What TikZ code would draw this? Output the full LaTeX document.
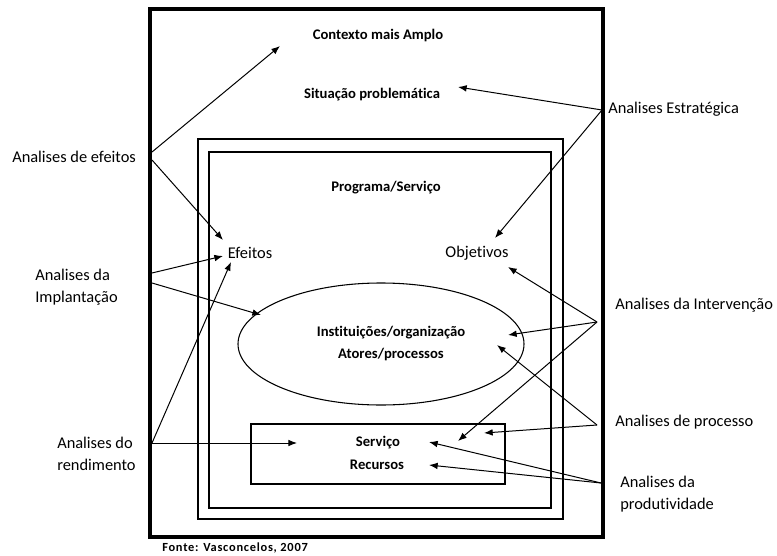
\documentclass[tikz,border=0pt]{standalone}
\usepackage{fontspec}
\setmainfont[Ligatures=NoCommon]{Carlito}
\usetikzlibrary{arrows.meta}
\begin{document}
\begin{tikzpicture}[x=0.75pt,y=-0.75pt,
  lbl/.style={inner sep=0pt,font=\fontsize{12.3}{16.5}\selectfont,align=left},
  bld/.style={inner sep=0pt,font=\fontsize{11}{16.5}\selectfont\bfseries},
  arr/.style={line width=0.75pt,-{Latex[length=6.5pt,width=5pt]}},
  frame/.style={line width=0.8pt}]
\useasboundingbox (0,0) rectangle (777,556);
% boxes
\draw[line width=2.3pt] (150,9) rectangle (603,537);
\draw[frame] (198,139) rectangle (563,519);
\draw[frame] (209,152) rectangle (551,508);
\draw[frame] (381,344) ellipse [x radius=143, y radius=61];
\draw[frame] (251,424) rectangle (505,484);
% inner texts
\node[bld] (ctx) at (378,36) {Contexto mais Amplo};
\node[bld] (sit) at (372,95) {Situação problemática};
\node[bld] (prog) at (386,188) {Programa/Serviço};
\node[lbl] (efe) at (250,253) {Efeitos};
\node[lbl] (obj) at (477,253) {Objetivos};
\node[bld] (inst) at (391,333) {Instituições/organização};
\node[bld] (ator) at (391,355) {Atores/processos};
\node[bld] (serv) at (378,443) {Serviço};
\node[bld] (rec) at (377,465) {Recursos};
\node[inner sep=0pt,font=\fontsize{9.3}{10}\selectfont\bfseries\addfontfeatures{LetterSpace=6},anchor=west] (fonte) at (162,548) {Fonte: Vasconcelos, 2007};
% side labels
\node[lbl,anchor=west] (aef) at (12,157) {Analises de efeitos};
\node[lbl,anchor=west] (aimp) at (35,287) {Analises da\\Implantação};
\node[lbl,anchor=west] (aren) at (57,454) {Analises do\\rendimento};
\node[lbl,anchor=west] (aest) at (608,109) {Analises Estratégica};
\node[lbl,anchor=west] (aint) at (615,305) {Analises da Intervenção};
\node[lbl,anchor=west] (apro) at (615,422) {Analises de processo};
\node[lbl,anchor=west] (aprd) at (620,494) {Analises da\\produtividade};
% arrow endpoints
\coordinate (s1) at (152,152);
\coordinate (s2) at (152,160);
\coordinate (s3) at (152,273);
\coordinate (s4) at (152,283);
\coordinate (s5) at (152,443);
\coordinate (s6) at (602,110);
\coordinate (s7) at (597,322);
\coordinate (s8) at (597,425);
\coordinate (s9) at (601,483);
\coordinate (t1) at (280,46);
\coordinate (t2) at (223,240);
\coordinate (t3) at (223,256);
\coordinate (t4) at (261,315);
\coordinate (t5) at (231,262);
\coordinate (t6) at (297,443);
\coordinate (t7) at (458,87);
\coordinate (t8) at (495,238);
\coordinate (t9) at (508,267);
\coordinate (t10) at (508,335);
\coordinate (t11) at (458,441);
\coordinate (t12) at (497,345);
\coordinate (t13) at (484,433);
\coordinate (t14) at (429,442);
\coordinate (t15) at (429,465);
% arrows
\draw[arr] (s1) -- (t1);
\draw[arr] (s2) -- (t2);
\draw[arr] (s3) -- (t3);
\draw[arr] (s4) -- (t4);
\draw[arr] (s5) -- (t5);
\draw[arr] (s5) -- (t6);
\draw[arr] (s6) -- (t7);
\draw[arr] (s6) -- (t8);
\draw[arr] (s7) -- (t9);
\draw[arr] (s7) -- (t10);
\draw[arr] (s7) -- (t11);
\draw[arr] (s8) -- (t12);
\draw[arr] (s8) -- (t13);
\draw[arr] (s9) -- (t14);
\draw[arr] (s9) -- (t15);
\end{tikzpicture}
\end{document}
